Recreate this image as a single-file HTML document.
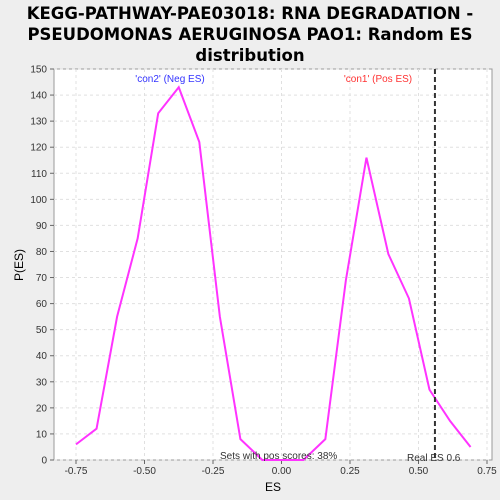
<!DOCTYPE html>
<html><head><meta charset="utf-8"><style>
body{margin:0;background:#eeeeee;font-family:"Liberation Sans",sans-serif}
svg{display:block}
</style></head><body>
<svg width="500" height="500" xmlns="http://www.w3.org/2000/svg">
<rect width="500" height="500" fill="#eeeeee"/>
<g font-weight="bold" font-size="16.5" font-family="'DejaVu Sans',sans-serif" text-anchor="middle" fill="#000">
<text x="250" y="19">KEGG-PATHWAY-PAE03018: RNA DEGRADATION -</text>
<text x="250" y="40">PSEUDOMONAS AERUGINOSA PAO1: Random ES</text>
<text x="250" y="61">distribution</text>
</g>
<rect x="54" y="69" width="438" height="391" fill="#fff" stroke="#999"/>
<g id="grid"></g><g id="axes"></g><g id="series"></g>
<text x="170" y="82" font-size="10" fill="#3333ff" text-anchor="middle">'con2' (Neg ES)</text>
<text x="378" y="82" font-size="10" fill="#ff3333" text-anchor="middle">'con1' (Pos ES)</text>
<text x="220" y="459" font-size="10" fill="#333">Sets with pos scores: 38%</text>
<text x="407" y="461" font-size="10" fill="#333">Real ES 0.6</text>
<text x="273" y="491" font-size="12" text-anchor="middle">ES</text>
<text x="23" y="265" font-size="12" text-anchor="middle" transform="rotate(-90 23 265)">P(ES)</text>
</svg>
<script>
const esValues=[-0.75,-0.675,-0.6,-0.525,-0.45,-0.375,-0.3,-0.225,-0.15,-0.07,0.08,0.16,0.235,0.31,0.39,0.465,0.54,0.615,0.69];
const pValues=[6,12,55,85,133,143,122,55,8,0,0,8,69,116,79,62,27,15,5];
const xTicks=[-0.75,-0.5,-0.25,0,0.25,0.5,0.75];
const xTickLabels=["-0.75","-0.50","-0.25","0.00","0.25","0.50","0.75"];
const yTicks=[0,10,20,30,40,50,60,70,80,90,100,110,120,130,140,150];
const realES=0.56;
const NS="http://www.w3.org/2000/svg";
const xs=v=>281.5+v*274;
const ys=v=>460-v*391/150;
function mk(t,a,p){const e=document.createElementNS(NS,t);for(const k in a)e.setAttribute(k,a[k]);p.appendChild(e);return e;}
const grid=document.getElementById('grid'),axes=document.getElementById('axes'),series=document.getElementById('series');
yTicks.forEach(v=>{
 const l=mk('line',{x1:54,x2:492,y1:ys(v),y2:ys(v),stroke:'#e0e0e0','stroke-dasharray':'3,3'},grid);
 
 
 mk('line',{x1:50,x2:54,y1:ys(v),y2:ys(v),stroke:'#666'},axes);
 const t=mk('text',{x:47,y:ys(v)+3.5,'font-size':10,'text-anchor':'end',fill:'#333'},axes);t.textContent=v;
 
 
});
xTicks.forEach((v,i)=>{
 const l=mk('line',{x1:xs(v),x2:xs(v),y1:69,y2:460,stroke:'#e0e0e0','stroke-dasharray':'3,3'},grid);
 
 
 mk('line',{x1:xs(v),x2:xs(v),y1:460,y2:464,stroke:'#666'},axes);
 const t=mk('text',{x:xs(v),y:474,'font-size':10,'text-anchor':'middle',fill:'#333'},axes);t.textContent=xTickLabels[i];
 
 
});
const pl=mk('polyline',{points:esValues.map((e,i)=>xs(e)+','+ys(pValues[i])).join(' '),fill:'none',stroke:'#ff33ff','stroke-width':2},series);


const rl=mk('line',{x1:xs(realES),x2:xs(realES),y1:69,y2:460,stroke:'#333','stroke-width':2,'stroke-dasharray':'5,3'},series);


</script>
</body></html>
